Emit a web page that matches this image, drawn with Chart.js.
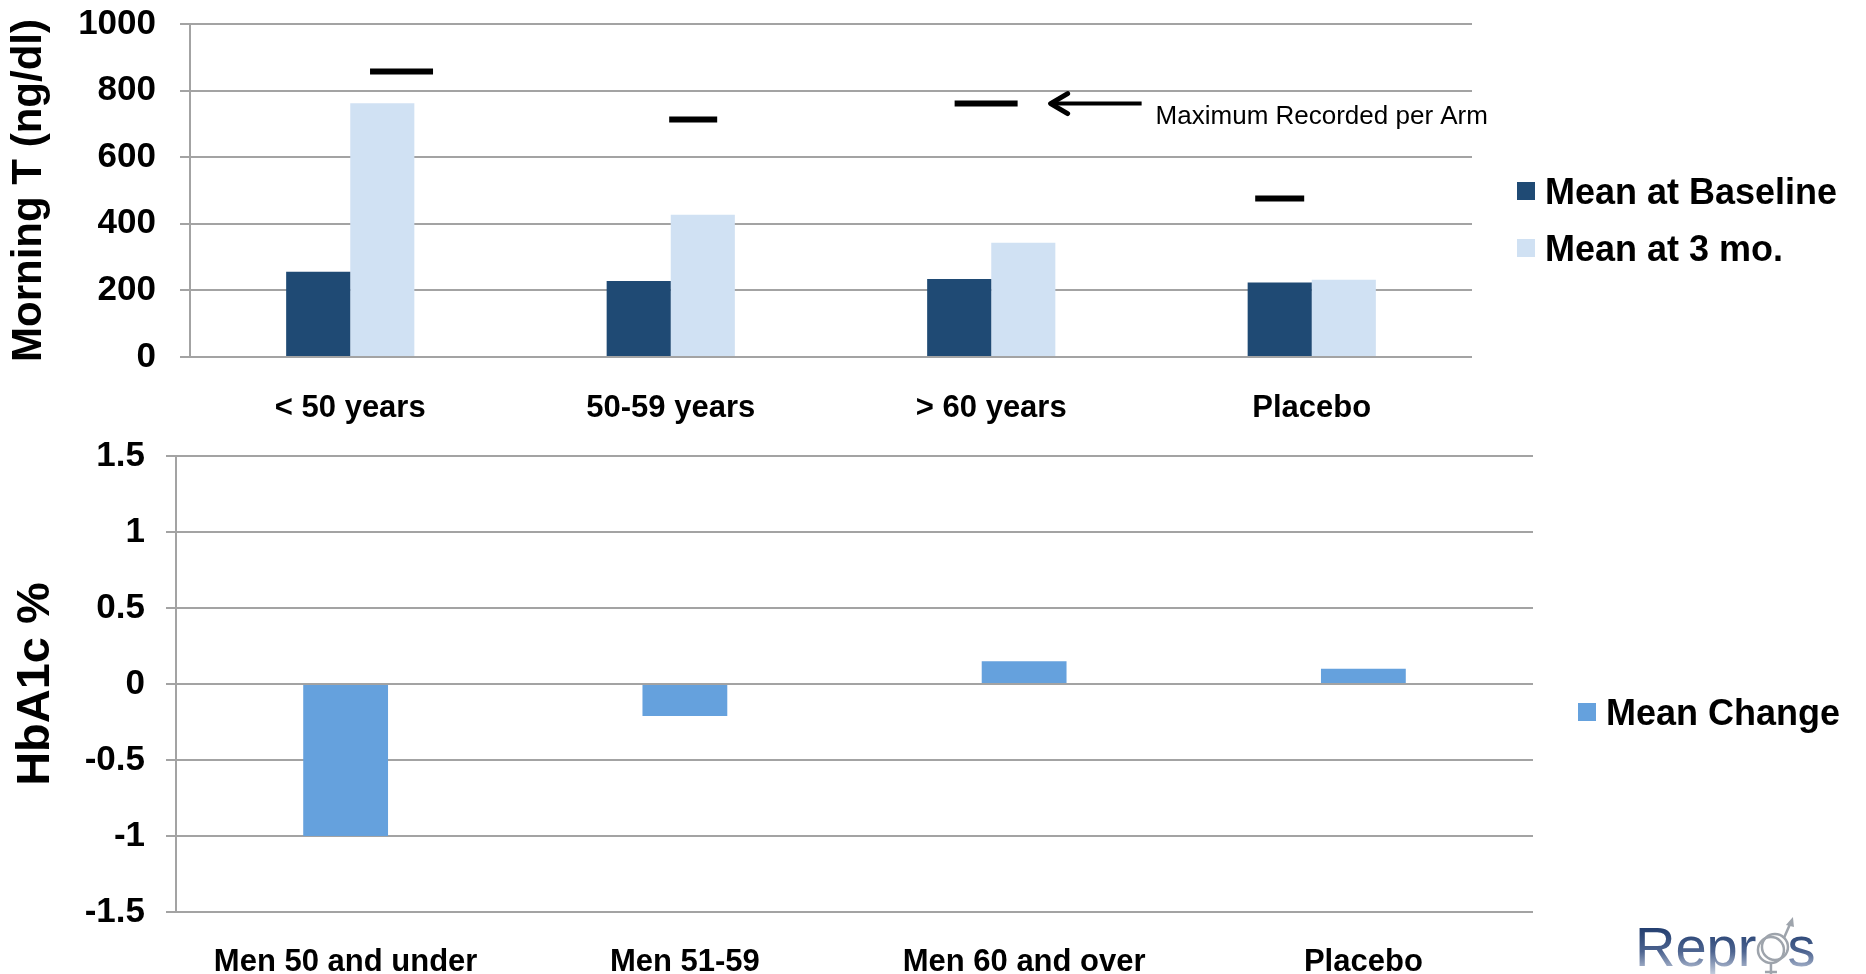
<!DOCTYPE html>
<html>
<head>
<meta charset="utf-8">
<title>Morning T and HbA1c by age group</title>
<script src="https://cdn.jsdelivr.net/npm/chart.js@4.4.1/dist/chart.umd.min.js"></script>
<style>
  html, body { margin: 0; padding: 0; background: #fff; width: 1866px; height: 974px; overflow: hidden; }
  .panel { position: absolute; left: 0; }
</style>
</head>
<body>
<canvas id="chartT" class="panel" style="top:0" width="1866" height="430"></canvas>
<canvas id="chartH" class="panel" style="top:430px" width="1866" height="544"></canvas>
<script>
// ---- Morning testosterone by arm ----
const ageGroups     = ['< 50 years', '50-59 years', '> 60 years', 'Placebo'];
const meanBaseline  = [256, 228, 234, 224];
const mean3mo       = [762, 427, 343, 232];
const maxRecorded   = [857, 713, 761, 476];
const tTicks        = [0, 200, 400, 600, 800, 1000];

// ---- HbA1c change by arm ----
const hba1cGroups   = ['Men 50 and under', 'Men 51-59', 'Men 60 and over', 'Placebo'];
const hba1cChange   = [-1.0, -0.21, 0.15, 0.1];
const hbTicks       = [-1.5, -1, -0.5, 0, 0.5, 1, 1.5];

// placement of the "maximum" dashes within each group (group units) and their half lengths
const markerShift   = [0.16, 0.07, -0.016, -0.10];
const markerHalfLen = [31.5, 24, 31.5, 24.5];

const FONT = "'Liberation Sans', Arial, Helvetica, sans-serif";
Chart.defaults.font.family = FONT;
Chart.defaults.color = '#000';

const GRID = '#A3A3A3';

// legend drawn to the right of the plot area
const sideLegend = {
  id: 'sideLegend',
  afterDraw(chart, args, opts) {
    const { ctx, chartArea } = chart;
    ctx.save();
    ctx.font = `bold ${opts.size}px ${FONT}`;
    ctx.textBaseline = 'middle';
    ctx.textAlign = 'left';
    opts.items.forEach((idx, k) => {
      const ds = chart.data.datasets[idx];
      const cy = chartArea.top + opts.top + k * opts.gap;
      ctx.fillStyle = ds.backgroundColor;
      ctx.fillRect(chartArea.right + 45, cy - 9, 18, 18);
      ctx.fillStyle = '#000';
      ctx.fillText(ds.label, chartArea.right + 73, cy + 3);
    });
    ctx.restore();
  }
};

// arrow pointing at one of the maximum dashes, with its caption
const maxCallout = {
  id: 'maxCallout',
  afterDatasetsDraw(chart, args, opts) {
    const { ctx } = chart;
    const ds = chart.data.datasets[opts.dataset];
    const pt = chart.getDatasetMeta(opts.dataset).data[opts.index];
    if (!pt) return;
    const tip = pt.x + markerHalfLen[opts.index] + 31;
    const y = pt.y;
    ctx.save();
    ctx.strokeStyle = '#000';
    ctx.lineWidth = 4;
    ctx.beginPath();
    ctx.moveTo(tip + 2, y);
    ctx.lineTo(tip + 93, y);
    ctx.stroke();
    ctx.lineWidth = 5;
    ctx.lineCap = 'round';
    ctx.lineJoin = 'round';
    ctx.beginPath();
    ctx.moveTo(tip + 19, y - 10);
    ctx.lineTo(tip + 2, y);
    ctx.lineTo(tip + 19, y + 10);
    ctx.stroke();
    ctx.fillStyle = '#000';
    ctx.font = `26px ${FONT}`;
    ctx.textBaseline = 'alphabetic';
    ctx.fillText(ds.label, tip + 107, y + 20);
    ctx.restore();
  }
};

// company wordmark in the lower right corner
const wordmark = {
  id: 'wordmark',
  afterDraw(chart) {
    const { ctx } = chart;
    const x = 1635, base = 536, size = 56;
    ctx.save();
    ctx.font = `${size}px ${FONT}`;
    ctx.textBaseline = 'alphabetic';
    const g = ctx.createLinearGradient(0, base - 42, 0, base + 8);
    g.addColorStop(0, '#1C386A');
    g.addColorStop(0.55, '#4D6490');
    g.addColorStop(1, '#C3CCDD');
    ctx.fillStyle = g;
    ctx.fillText('Repr', x, base);
    const w = ctx.measureText('Repr').width;
    const ow = ctx.measureText('o').width;
    ctx.fillText('s', x + w + ow, base);
    // the "o": interlocked rings with arrow and cross
    const cx = x + w + ow / 2, cy = base - 17;
    ctx.strokeStyle = '#9EA4AC';
    ctx.lineWidth = 2.5;
    ctx.beginPath(); ctx.arc(cx - 1, cy + 1, 13, 0, Math.PI * 2); ctx.stroke();
    ctx.beginPath(); ctx.arc(cx + 3, cy - 2, 13, 0, Math.PI * 2); ctx.stroke();
    ctx.beginPath();
    ctx.moveTo(cx + 12, cy - 11); ctx.lineTo(cx + 19, cy - 27);
    ctx.stroke();
    ctx.fillStyle = '#9EA4AC';
    ctx.beginPath();
    ctx.moveTo(cx + 21, cy - 32); ctx.lineTo(cx + 14, cy - 24); ctx.lineTo(cx + 22, cy - 22);
    ctx.closePath(); ctx.fill();
    ctx.beginPath();
    ctx.moveTo(cx - 1, cy + 14); ctx.lineTo(cx - 1, cy + 26);
    ctx.moveTo(cx - 7, cy + 23); ctx.lineTo(cx + 5, cy + 23);
    ctx.stroke();
    ctx.restore();
  }
};

const fixedTicks = (arr) => (scale) => { scale.ticks = arr.map(v => ({ value: v })); };
const fixWidth = (w) => (scale) => { scale.width = w; scale.paddingTop = 0; scale.paddingBottom = 0; };
const groupIndex = ageGroups.map((_, i) => i);

// The testosterone panel uses a numeric group axis so the "maximum" dashes
// can sit between group centres while sharing the same axis as the bars.
new Chart(document.getElementById('chartT'), {
  type: 'bar',
  data: {
    labels: ageGroups,
    datasets: [
      { label: 'Mean at Baseline', data: meanBaseline.map((v, i) => ({ x: i, y: v })),
        backgroundColor: '#1F4A74', categoryPercentage: 0.4, barPercentage: 1 },
      { label: 'Mean at 3 mo.', data: mean3mo.map((v, i) => ({ x: i, y: v })),
        backgroundColor: '#D0E1F3', categoryPercentage: 0.4, barPercentage: 1 },
      { type: 'scatter', label: 'Maximum Recorded per Arm',
        data: maxRecorded.map((v, i) => ({ x: i + markerShift[i], y: v })),
        showLine: false, pointStyle: 'line',
        pointRadius: markerHalfLen, pointHoverRadius: markerHalfLen,
        pointBorderColor: '#000', pointBorderWidth: 6,
        pointHoverBorderColor: '#000', pointHoverBorderWidth: 6 }
    ]
  },
  options: {
    responsive: false,
    animation: false,
    events: [],
    layout: { autoPadding: false, padding: { top: 24, right: 1866 - 1472, left: 0, bottom: 0 } },
    plugins: {
      legend: { display: false },
      tooltip: { enabled: false },
      sideLegend: { items: [0, 1], size: 36, top: 167, gap: 57 },
      maxCallout: { dataset: 2, index: 2 }
    },
    scales: {
      x: {
        type: 'linear',
        min: -0.5, max: 3.5,
        offset: false,
        afterBuildTicks: fixedTicks(groupIndex),
        grid: { display: false },
        border: { display: false },
        ticks: { font: { size: 31, weight: 'bold' }, padding: 25, maxRotation: 0, autoSkip: false,
                 callback: (v) => ageGroups[v] },
        afterFit: (s) => { s.height = 73; }
      },
      y: {
        min: 0, max: 1000,
        afterBuildTicks: fixedTicks(tTicks),
        grid: { color: GRID, lineWidth: 2, tickLength: 10 },
        border: { color: GRID, width: 2 },
        ticks: { font: { size: 35, weight: 'bold' }, padding: 24, callback: (v) => String(v) },
        title: { display: true, text: 'Morning T (ng/dl)', font: { size: 42, weight: 'bold' }, padding: { top: 4, bottom: 0 } },
        afterFit: fixWidth(190)
      }
    }
  },
  plugins: [sideLegend, maxCallout]
});

new Chart(document.getElementById('chartH'), {
  type: 'bar',
  data: {
    labels: hba1cGroups,
    datasets: [
      { label: 'Mean Change', data: hba1cChange, backgroundColor: '#65A1DD',
        categoryPercentage: 0.25, barPercentage: 1 }
    ]
  },
  options: {
    responsive: false,
    animation: false,
    events: [],
    layout: { autoPadding: false, padding: { top: 26, right: 1866 - 1533, left: 0, bottom: 0 } },
    plugins: {
      legend: { display: false },
      tooltip: { enabled: false },
      sideLegend: { items: [0], size: 36, top: 256, gap: 0 }
    },
    scales: {
      x: {
        grid: { display: false },
        border: { display: false },
        ticks: { font: { size: 31, weight: 'bold' }, padding: 24, maxRotation: 0, autoSkip: false },
        afterFit: (s) => { s.height = 62; }
      },
      y: {
        min: -1.5, max: 1.5,
        afterBuildTicks: fixedTicks(hbTicks),
        grid: { color: GRID, lineWidth: 2, tickLength: 10 },
        border: { color: GRID, width: 2 },
        ticks: { font: { size: 35, weight: 'bold' }, padding: 21, callback: (v) => String(v) },
        title: { display: true, text: 'HbA1c %', font: { size: 47, weight: 'bold' }, padding: { top: 8, bottom: 0 } },
        afterFit: fixWidth(176)
      }
    }
  },
  plugins: [sideLegend, wordmark]
});
</script>
</body>
</html>
